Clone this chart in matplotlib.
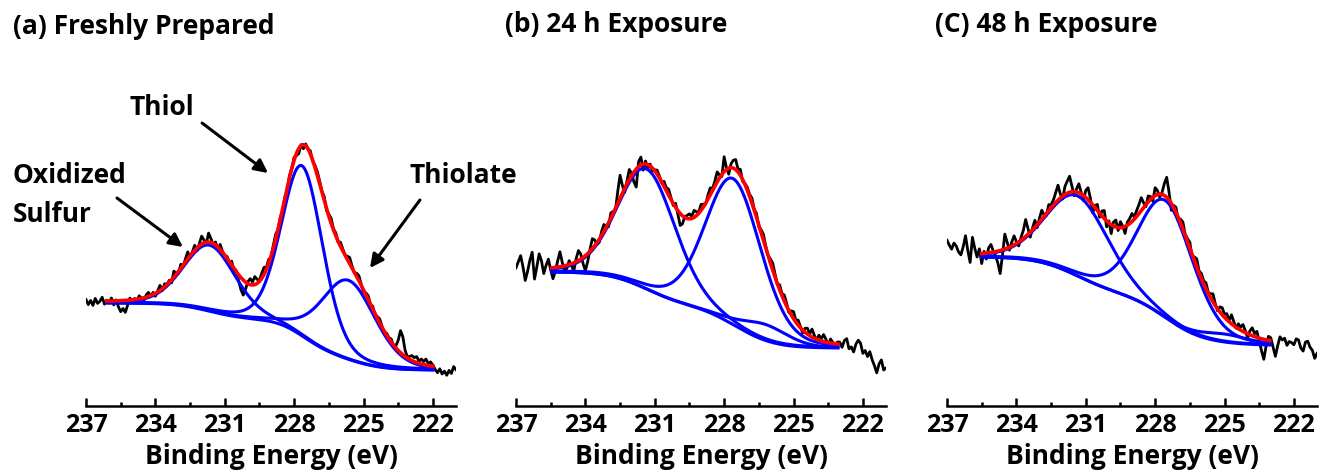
import numpy as np
import matplotlib
matplotlib.use('Agg')
import matplotlib.pyplot as plt

plt.rcParams['font.family'] = ['Open Sans', 'DejaVu Sans']
plt.rcParams['font.weight'] = 'bold'

# energy grid of the measured spectra (eV), from high to low binding energy
energyStart = 237.0
energyStep = 0.1
nPoints = 161

panelTitles = ['(a) Freshly Prepared', '(b) 24 h Exposure', '(C) 48 h Exposure']

# fit window (eV) and Shirley background end levels (arb. counts)
fitLeft = [236.1, 235.45, 235.5]
fitRight = [222.0, 223.08, 223.04]
bgHigh = [103, 134, 149]
bgLow = [36, 58, 61]

# fitted components (centre eV, height, FWHM eV): oxidized sulfur, thiol, thiolate
oxidized = [(231.65, 66, 2.65), (231.35, 120, 2.95), (231.35, 80, 3.2)]
thiol = [(227.65, 170, 2.1), (227.6, 146, 2.85), (227.55, 117, 2.85)]
thiolate = [(225.65, 79, 2.75), (226.2, 16, 2.4), (225.0, 8, 2.5)]

residualA = [2, -3, 1, -4, 3, -2, 0, 4, -3, 1,
             -2, 3, -4, 1, -6, -11, -8, -12, -5, 2, -3,
             1, -2, 3, 0, -3, 2, 4, -1, 2, -3, 1, 5, -2, 3, 0,
             2, -3, 6, 1, -2, 4, -1, 3, 7, -2, 1, 5, -3, 2, 8, 3, -2, 9, 4, -1,
             3, -2, 5, 1, -4, 2, -1, 4, -3, 1, -6, -12, -15, -7, 2,
             6, 3, 8, 4, 1, 5, 7, 2, 4, -1, 3, 5, 0, 2, -2,
             1, -3, 2, 0, 3, -2, -5, 1, -4, 2, 0, 3, -1, 2, 4,
             3, 1, 4, -2, 2, 5, 1, 3, -1, 4, 2, 0, 3, 6, 2, -1, 3, 5, 1, -2,
             2, 4, 0, 3, -1, 2, 4, 1, -2, 2,
             1, 3, -1, 2, 10, 22, 18, 6, 1, 3, 5,
             4, 6, 2, 5, 3, 6, 2, 4, 1,
             -3, -6, -2, -7, -4, -8, -3, -6, 1, -2]
residualB = [2, 8, 14, 3, -11, -2, 9, 17, -10, 2, 15, 8, -5, 3, 9, -2,
             -11, -4, 6, 15, 4,
             -6, -3, 4, -2, -8, 3, 10, 5, -6, -15, -8, 2, 10, 6, -2,
             -3, 4, 7, 1, -4, 5, 2, -2, 12, 23,
             8, -4, 3, 10, 2, -10, -18, 5, 8, -6, 3, -4, 2,
             -3, 1, 4, 2, -1, 5, 3, 6, 2, -2, 4, -4, -12, -8, 1, 3,
             5, 2, 7, 4, 1, 6, 3, -1, 4, 7, 2, 5, 10, 3, -2, 15,
             2, -6, 4, 8, 10, 3, 6, -2, 1, 3,
             2, 5, 1, 4, -2, 3, 6, 2, 0, 4, 7, 3, -1, 5, 2, 6, 3, -2, 4, 7,
             2, 5, 1, -3, 4,
             6, 2, 8, 3, -1, 5, 2, 7, 3, -3, 4, 1, -4, 2,
             2, -3, 4, 6, -4, -2, -7, 1, 5, 2, -8, -5, -11, -6, -14, -20, -27, -18,
             -14, -24, -22]
residualC = [15, 10, 6, 12, 9, 3, 0, 8, 19, 4, -8, 17, 6, -3, 5, -10,
             2, -6, 5, 8, 1, -4, -12, -23, -5, 15, 6, -3, 4, 9, 2,
             -4, 3, 8, 17, 6, -5, 2, 7, -3, 4, 9, 1, -2, 6, 3,
             5, 10, 15, 4, -3, 8, 12, 16, 6, -4, 3, 9, 2, -5, 7, 12, 4, -8, 2, 6,
             -4, 5, 8, -6, 2, -9, 4, 7, -3, 6, 1, -7, 3, 5, 8, 2, 6,
             9, 13, 5, -2, 6, 3, -4, 8, 4, -3, 2, 12, 20,
             8, -7, 2, 5, -3, 4, 7, 1, 3, 6, -2, 4, 8, 2, 5,
             3, 6, 1, 4, 8, 2, -2, 5, 7, 3, 6, 1, 9, 4, -1, 5, 3, 7, 2, -4,
             4, 8, 3, 6, -3, -12, -20, -6, 4,
             3, -6, -15, -4, 5, 2, 4, -3, 1, 0, -2, 4, 3, -5, -8, 1, 2, -4, -7,
             -15, -10]
residuals = [residualA, residualB, residualC]

majorTicks = [237, 234, 231, 228, 225, 222]
minorTicks = [235.5, 232.5, 229.5, 226.5, 223.5]


def glPeak(x, centre, height, fwhm, lorentz=0.2):
    # Gaussian-Lorentzian mix, as used in the XPS fit
    u = (x - centre) / fwhm
    return height * ((1 - lorentz) * np.exp(-4 * np.log(2) * u ** 2) + lorentz / (1 + 4 * u ** 2))


def shirley(x, envelope, high, low):
    # x runs high -> low BE; background follows area on the low-BE side
    xr = x[::-1]
    er = envelope[::-1]
    area = np.concatenate([[0], np.cumsum(0.5 * (er[1:] + er[:-1]) * np.diff(xr))])[::-1]
    return low + (high - low) * area / area[0]


energy = energyStart - energyStep * np.arange(nPoints)

fig = plt.figure(figsize=(13.2, 4.73), dpi=100)
W, H = 1320.0, 473.0
axLeft = [86, 516, 947]
titleX = [13, 505, 935]
titleY = [34, 32, 32]
textSize = 19

for k in range(3):
    ax = fig.add_axes([axLeft[k] / W, 67 / H, 370 / W, 306 / H])
    peaks = [oxidized[k], thiol[k], thiolate[k]]

    xf = np.linspace(fitLeft[k], fitRight[k], 600)
    envelope = sum(glPeak(xf, *p) for p in peaks)
    bg = shirley(xf, envelope, bgHigh[k], bgLow[k])

    # measured spectrum
    bgData = np.interp(energy, xf[::-1], bg[::-1])
    counts = bgData + sum(glPeak(energy, *p) for p in peaks) + np.array(residuals[k])
    ax.plot(energy, counts, color='black', lw=2.0, zorder=1)

    # background and components
    ax.plot(xf, bg, color='#0000ff', lw=2.2, zorder=2)
    for p in peaks:
        ax.plot(xf, bg + glPeak(xf, *p), color='#0000ff', lw=2.2, zorder=2)
    ax.plot(xf, bg + envelope, color='#ff0000', lw=2.6, zorder=3)

    ax.set_xlim(237, 221)
    ax.set_ylim(0, 306)
    ax.set_xticks(majorTicks)
    ax.set_xticks(minorTicks, minor=True)
    ax.tick_params(axis='x', which='major', direction='in', length=6, width=1.8,
                   labelsize=18, pad=5)
    ax.tick_params(axis='x', which='minor', direction='in', length=3, width=1.8)
    for s in ['left', 'right', 'top']:
        ax.spines[s].set_visible(False)
    ax.spines['bottom'].set_linewidth(1.8)
    ax.yaxis.set_visible(False)
    ax.set_xlabel('Binding Energy (eV)', fontsize=textSize, fontweight='bold', labelpad=3.5)
    ax.patch.set_alpha(0)

    fig.text(titleX[k] / W, 1 - titleY[k] / H, panelTitles[k], fontsize=textSize,
             fontweight='bold', ha='left', va='baseline')

    if k == 0:
        arrow = dict(arrowstyle='-|>', color='black', lw=2.2, mutation_scale=20,
                     shrinkA=0, shrinkB=0)
        ax.text(233.74, 291, 'Thiol', fontsize=textSize, ha='center', va='baseline')
        ax.annotate('', xy=(229.13, 233), xytext=(231.98, 283), arrowprops=arrow,
                    annotation_clip=False)
        ax.text(240.16, 223, 'Oxidized', fontsize=textSize, ha='left', va='baseline', clip_on=False)
        ax.text(240.16, 184, 'Sulfur', fontsize=textSize, ha='left', va='baseline', clip_on=False)
        ax.annotate('', xy=(232.81, 159), xytext=(235.66, 208), arrowprops=arrow,
                    annotation_clip=False)
        ax.text(223.03, 223, 'Thiolate', fontsize=textSize, ha='left', va='baseline', clip_on=False)
        ax.annotate('', xy=(224.72, 138), xytext=(222.56, 206), arrowprops=arrow,
                    annotation_clip=False)

fig.savefig('out.png', dpi=100)
